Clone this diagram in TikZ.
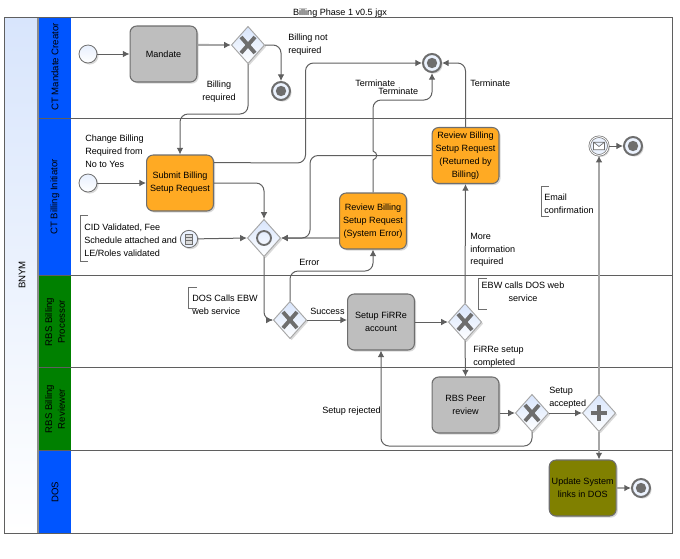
\documentclass[tikz,border=0pt]{standalone}
\usepackage{fontspec}
\setmainfont{Liberation Sans}
\usetikzlibrary{arrows.meta,positioning,calc,shapes.geometric,shadows}
\definecolor{laneblue}{RGB}{0,85,255}
\definecolor{lanegreen}{RGB}{0,128,0}
\definecolor{poolblue}{RGB}{216,229,252}
\definecolor{taskorange}{RGB}{255,170,35}
\definecolor{taskgray}{RGB}{190,190,190}
\definecolor{taskolive}{RGB}{128,128,0}
\definecolor{edgegray}{RGB}{95,95,95}
\definecolor{markgray}{RGB}{110,110,110}
\tikzset{
  softshadow/.style={drop shadow={shadow xshift=1.2pt,shadow yshift=-1.2pt,opacity=.3,fill=black!50}},
  task/.style={draw=markgray,line width=.8pt,rounded corners=5pt,minimum width=50.2pt,minimum height=42pt,
    inner sep=0pt,align=center,softshadow,font=\fontsize{6.8}{9.6}\selectfont},
  gate/.style={diamond,draw=black!35,line width=.7pt,minimum width=25pt,minimum height=28pt,inner sep=0pt,aspect=.9,
    top color=poolblue,bottom color=white,softshadow},
  gatex/.style={gate,path picture={\draw[markgray,line width=2.9pt,shift={(path picture bounding box.center)}]
    (-7,-8)--(7,8) (-7,8)--(7,-8);}},
  gatep/.style={gate,path picture={\draw[markgray,line width=2.6pt,shift={(path picture bounding box.center)}]
    (-8,0)--(8,0) (0,-8)--(0,8);}},
  gateo/.style={gate,path picture={\draw[markgray,line width=1.4pt,shift={(path picture bounding box.center)}]
    (0,0) circle (7);}},
  evstart/.style={circle,draw=markgray,line width=.6pt,minimum size=13.5pt,inner sep=0pt,
    top color=poolblue!60,bottom color=white,softshadow},
  evend/.style={circle,draw=markgray,line width=1.5pt,minimum size=13.5pt,inner sep=0pt,fill=poolblue!50,softshadow,
    path picture={\fill[markgray,shift={(path picture bounding box.center)}] (0,0) circle (5.2);}},
  evcond/.style={circle,draw=markgray,line width=.6pt,minimum size=13pt,inner sep=0pt,fill=poolblue!50,softshadow,
    path picture={\draw[markgray,fill=black!15,line width=.5pt,shift={(path picture bounding box.center)}]
      (-3.5,-5) rectangle (3.5,5) (-3.5,-1.7)--(3.5,-1.7) (-3.5,1.7)--(3.5,1.7);}},
  evmail/.style={circle,draw=markgray,double=white,double distance=.7pt,line width=.5pt,minimum size=14pt,inner sep=0pt,
    fill=poolblue!50,softshadow,
    path picture={\draw[markgray,fill=white,line width=.5pt,shift={(path picture bounding box.center)}]
      (-5.5,-3.8) rectangle (5.5,3.8) (-5.5,3.8)--(0,-.5)--(5.5,3.8);}},
  lbl/.style={anchor=west,inner sep=0pt,align=left,font=\fontsize{6.8}{9.6}\selectfont},
  lanetxt/.style={rotate=90,inner sep=0pt,align=center,font=\fontsize{7.2}{9.6}\selectfont},
  flow/.style={draw=edgegray,line width=.75pt,rounded corners=6pt,-{Latex[length=5pt,width=5pt]}},
  flowb/.style={draw=black!35,line width=1.4pt,rounded corners=6pt,-{Latex[length=5pt,width=5pt,color=edgegray]}},
  bracket/.style={draw=markgray,line width=.75pt}
}
\begin{document}
\begin{tikzpicture}[x=.75pt,y=.75pt]
\useasboundingbox (0,0) rectangle (680,-558);
% pool and lanes
\shade[top color=poolblue,bottom color=white] (4.5,-17) rectangle (38,-533);
\foreach \ytop/\ybot/\col in {17/118.5/laneblue,118.5/275.5/laneblue,275.5/367.5/lanegreen,367.5/450.5/lanegreen,450.5/533/laneblue}
  \fill[\col] (38,-\ytop) rectangle (71,-\ybot);
\foreach \ysep in {118.5,275.5,367.5,450.5}
  \draw[edgegray,line width=.75pt] (38,-\ysep) -- (672,-\ysep);
\draw[black!45,line width=1pt] (38,-17) -- (38,-533);
\draw[edgegray,line width=.75pt] (4.5,-17) rectangle (672,-533);
\node[lanetxt] (pool) at (22,-275) {BNYM};
\node[lanetxt] (lane1) at (55,-67) {CT Mandate Creator};
\node[lanetxt] (lane2) at (55,-197) {CT Billing Initiator};
\node[lanetxt] (lane3) at (55,-322) {RBS Billing\\Processor};
\node[lanetxt] (lane4) at (55,-409) {RBS Billing\\Reviewer};
\node[lanetxt] (lane5) at (55,-492) {DOS};
\node[lbl,anchor=center] (title) at (340,-13) {Billing Phase 1 v0.5 jgx};
% tasks
\node[task,fill=taskgray] (mandate) at (163.5,-54) {Mandate};
\node[task,fill=taskorange] (submit) at (180,-183) {Submit Billing\\Setup Request};
\node[task,fill=taskorange] (revsys) at (373,-221) {Review Billing\\Setup Request\\(System Error)};
\node[task,fill=taskorange] (revret) at (465.5,-155.5) {Review Billing\\Setup Request\\(Returned by\\Billing)};
\node[task,fill=taskgray] (setup) at (381,-322) {Setup FiRRe\\account};
\node[task,fill=taskgray] (peer) at (465.5,-405) {RBS Peer\\review};
\node[task,fill=taskolive] (update) at (582.7,-488) {Update System\\links in DOS};
% gateways
\node[gatex] (xbill) at (248,-45) {};
\node[gateo] (orjoin) at (264,-238) {};
\node[gatex] (xdos) at (290,-320) {};
\node[gatex] (xebw) at (465,-322) {};
\node[gatex] (xpeer) at (532,-413) {};
\node[gatep] (split) at (599,-413) {};
% events
\node[evstart] (startm) at (88,-54) {};
\node[evstart] (startb) at (88,-183) {};
\node[evcond] (cond) at (189,-239) {};
\node[evend] (endno) at (281,-91) {};
\node[evend] (endterm) at (432,-63) {};
\node[evmail] (mail) at (599,-146) {};
\node[evend] (endmail) at (633,-146) {};
\node[evend] (enddos) at (641,-488) {};
% flows
\draw[flow] (startm) -- (mandate);
\draw[flowb] (mandate.15) -- (xbill.west);
\draw[flow] (xbill.east) -- (281,-45) -- (endno.north);
\draw[flow] (xbill.south) -- (248,-114) -- (180,-114) -- (submit.north);
\draw[flow] (startb) -- (submit);
\draw[flow] (submit.31) -- (305.5,-163) -- (305.5,-63) -- (endterm.west);
\draw[flow] (submit.east) -- (264,-183) -- (orjoin.north);
\draw[flow] (cond) -- (orjoin.west);
\draw[flow] (orjoin.south) -- (264,-320) -- (xdos.west);
\draw[flow] (xdos.north) -- (290,-271) -- (373,-271) -- (revsys.south);
\draw[flowb] (revsys.west |- orjoin.east) -- (orjoin.east);
\draw[flow] (revret.west) -- (310,-155.5) -- (310,-238) -- (orjoin.east);
\draw[flow,rounded corners=0pt] (revsys.north) -- (373,-160) .. controls (378,-158) and (378,-153) .. (373,-151)
  [rounded corners=6pt] -- (373,-100) -- (432,-100) -- (endterm.south);
\draw[flow] (revret.north) -- (465.5,-63) -- (endterm.east);
\draw[flow] (xdos.east) -- (setup.west |- xdos.east);
\draw[flow] (setup) -- (xebw.west);
\draw[flow] (xebw.north) -- (revret.south);
\draw[flow] (xebw.south) -- (peer.north);
\draw[flow] (peer.east |- xpeer.west) -- (xpeer.west);
\draw[flow] (xpeer.east) -- (split.west);
\draw[flow] (xpeer.south) -- (532,-446) -- (381,-446) -- (setup.south);
\draw[flowb] (split.north) -- (mail.south);
\draw[flowb] (split.south) -- (split.south |- update.north);
\draw[flow] (mail) -- (endmail);
\draw[flowb] (update) -- (enddos);
% labels
\node[lbl] (l1) at (288,-44.5) {Billing not\\required};
\node[lbl,align=center,anchor=center] (l2) at (219,-92) {Billing\\required};
\node[lbl] (l3) at (85,-151.5) {Change Billing\\Required from\\No to Yes};
\node[lbl] (l4) at (84,-240) {CID Validated, Fee\\Schedule attached and\\LE/Roles validated};
\node[lbl] (l5) at (355,-83) {Terminate};
\node[lbl] (l6) at (378,-91) {Terminate};
\node[lbl] (l7) at (470,-83) {Terminate};
\node[lbl] (l8) at (470,-250) {More\\information\\required};
\node[lbl] (l9) at (544,-203.5) {Email\\confirmation};
\node[lbl] (l10) at (299,-262) {Error};
\node[lbl] (l11) at (310,-311) {Success};
\node[lbl] (l12) at (192,-304.5) {DOS Calls EBW\\web service};
\node[lbl,align=center,anchor=center] (l13) at (523,-291.5) {EBW calls DOS web\\service};
\node[lbl] (l14) at (473,-356.5) {FiRRe setup\\completed};
\node[lbl] (l15) at (549,-398) {Setup\\accepted};
\node[lbl] (l16) at (322,-411) {Setup rejected};
% annotation brackets
\draw[bracket] (88,-215) -- (80,-215) -- (80,-261) -- (88,-261);
\draw[bracket] (549,-186) -- (541,-186) -- (541,-216) -- (549,-216);
\draw[bracket] (197,-287.5) -- (188.5,-287.5) -- (188.5,-308) -- (197,-308);
\draw[bracket] (487,-278.5) -- (478,-278.5) -- (478,-309.5) -- (487,-309.5);
\end{tikzpicture}
\end{document}
